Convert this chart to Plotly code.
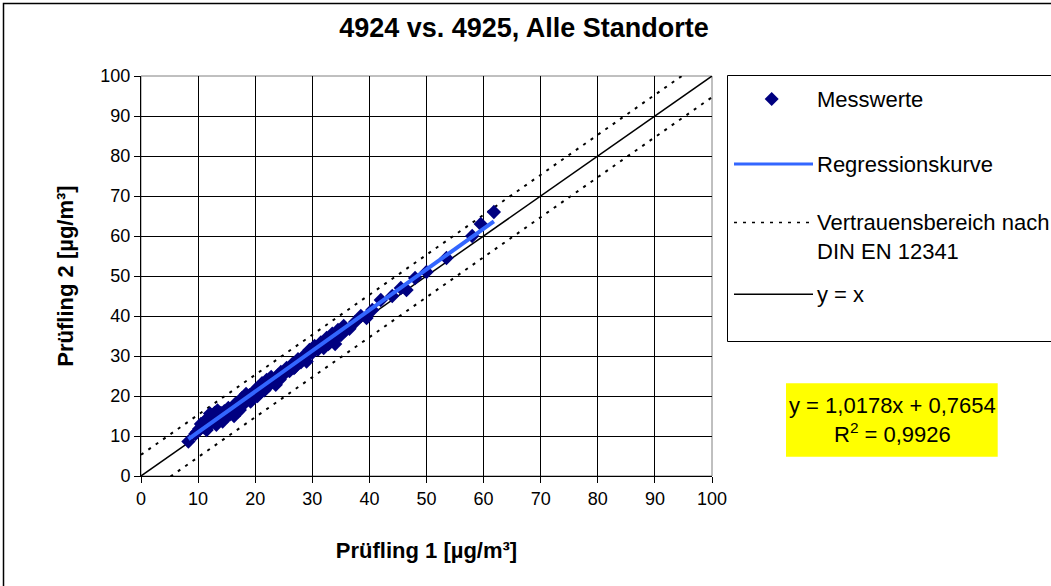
import plotly.graph_objects as go

# ---------------- data ----------------
x_vals = [8.3, 9.5, 10.2, 10.8, 11.2, 11.5, 11.8, 12.1, 12.3, 12.7, 13.0, 13.2, 13.6, 14.0,
          14.3, 14.6, 15.0, 15.3, 15.6, 16.0, 16.3, 16.7, 17.0, 17.3, 17.7, 18.0, 18.4, 18.8,
          19.2, 19.6, 20.0, 20.4, 20.8, 21.2, 21.6, 22.0, 22.4, 22.8, 23.2, 23.6, 24.0, 24.5,
          25.0, 25.5, 26.0, 26.5, 27.0, 27.5, 28.0, 28.5, 29.0, 29.5, 30.0, 30.4, 31.0, 31.5,
          32.0, 32.5, 33.0, 33.5, 34.0, 34.5, 35.0, 35.5, 36.5, 37.5, 38.5, 39.5, 40.5, 42.0,
          44.0, 45.5, 46.5, 48.0, 50.0, 53.5, 58.0, 59.5, 61.8,
          10.5, 11.0, 12.0, 12.9, 13.4, 14.2, 14.8, 15.8, 16.5, 17.5, 18.2, 19.0, 19.9, 21.0,
          22.2, 23.0, 24.3, 25.8, 27.2, 28.8, 30.8, 32.8, 34.3, 35.8, 9.8, 16.9, 20.6, 26.8]
y_vals = [8.6, 10.5, 11.8, 12.5, 13.8, 11.5, 14.5, 15.6, 13.2, 14.0, 15.2, 12.8, 14.3, 15.8,
          13.6, 16.2, 14.8, 17.0, 15.4, 16.8, 15.0, 17.5, 18.3, 16.5, 19.5, 18.0, 20.5, 19.3,
          18.6, 20.8, 21.5, 20.0, 22.0, 23.2, 21.4, 24.0, 22.6, 24.8, 23.5, 22.8, 25.2, 26.0,
          25.4, 27.0, 26.2, 28.0, 27.3, 29.2, 28.4, 30.0, 28.6, 31.5, 30.8, 32.5, 31.6, 33.4,
          32.0, 34.5, 33.2, 35.6, 33.0, 36.5, 35.2, 37.5, 36.8, 38.5, 40.0, 39.5, 41.5, 44.0,
          45.0, 47.0, 46.5, 49.5, 51.0, 54.5, 60.0, 63.0, 66.0,
          13.0, 12.2, 13.5, 15.8, 16.4, 14.9, 15.6, 16.0, 18.0, 18.8, 19.6, 20.2, 20.4, 21.0,
          23.6, 24.2, 24.1, 26.8, 28.5, 29.8, 32.0, 33.0, 34.6, 36.4, 11.0, 16.0, 22.3, 27.0]

reg_slope = 1.0178
reg_intercept = 0.7654
r_squared = 0.9926
conf_offset = 5.3          # half width of DIN EN 12341 band
diag_x = [0, 100]

title_text = "4924 vs. 4925, Alle Standorte"
x_title = "Prüfling 1 [µg/m³]"
y_title = "Prüfling 2 [µg/m³]"
tick_vals = [0, 10, 20, 30, 40, 50, 60, 70, 80, 90, 100]
legend_labels = ["Messwerte", "Regressionskurve", "Vertrauensbereich nach", "DIN EN 12341", "y = x"]

FONT = "Liberation Sans, Arial, sans-serif"
NAVY = "#000080"
BLUE = "#3366FF"

# ---------------- traces ----------------
fig = go.Figure()

fig.add_trace(go.Scatter(x=diag_x, y=[v + conf_offset for v in diag_x], mode="lines",
                         line=dict(color="black", width=2, dash="3px,6px"), showlegend=False))
fig.add_trace(go.Scatter(x=diag_x, y=[v - conf_offset for v in diag_x], mode="lines",
                         line=dict(color="black", width=2, dash="3px,6px"), showlegend=False))
fig.add_trace(go.Scatter(x=diag_x, y=diag_x, mode="lines",
                         line=dict(color="black", width=1.5), showlegend=False))
fig.add_trace(go.Scatter(x=x_vals, y=y_vals, mode="markers",
                         marker=dict(symbol="diamond", size=11, color=NAVY, line=dict(width=0)),
                         showlegend=False))
reg_x = [min(x_vals), max(x_vals)]
fig.add_trace(go.Scatter(x=reg_x, y=[reg_slope * v + reg_intercept for v in reg_x], mode="lines",
                         line=dict(color=BLUE, width=4), showlegend=False))

# ---------------- layout helpers ----------------
L, R, T, B = 141, 712, 76, 476
W, H = 1051, 586


def px(xp):
    return (xp - L) / (R - L)


def py(yp):
    return (B - yp) / (B - T)


shapes = []
annotations = []

# outer chart frame
shapes.append(dict(type="rect", xref="paper", yref="paper", x0=px(3.5), x1=px(1075), y0=py(610), y1=py(3.5),
                   line=dict(color="black", width=1.5), fillcolor="rgba(0,0,0,0)", layer="below"))
# plot area border (grey)
shapes.append(dict(type="rect", xref="paper", yref="paper", x0=0, x1=1, y0=0, y1=1,
                   line=dict(color="#808080", width=1), layer="below"))

# legend box
shapes.append(dict(type="rect", xref="paper", yref="paper", x0=px(727.5), x1=px(1075), y0=py(341.5), y1=py(75.5),
                   line=dict(color="black", width=1), fillcolor="white"))
# legend: diamond
cx, cy, hw = 771.7, 99, 7
shapes.append(dict(type="path", xref="paper", yref="paper",
                   path=f"M {px(cx - hw)} {py(cy)} L {px(cx)} {py(cy - hw)} L {px(cx + hw)} {py(cy)} L {px(cx)} {py(cy + hw)} Z",
                   fillcolor=NAVY, line=dict(color=NAVY, width=0)))
# legend: regression line
shapes.append(dict(type="line", xref="paper", yref="paper", x0=px(734), x1=px(813), y0=py(164), y1=py(164),
                   line=dict(color=BLUE, width=3)))
# legend: dotted
shapes.append(dict(type="line", xref="paper", yref="paper", x0=px(734), x1=px(813), y0=py(222.5), y1=py(222.5),
                   line=dict(color="black", width=1.5, dash="3px,6px")))
# legend: y = x
shapes.append(dict(type="line", xref="paper", yref="paper", x0=px(734), x1=px(813), y0=py(294.3), y1=py(294.3),
                   line=dict(color="black", width=1.5)))

leg_y = [99, 164, 222, 252, 294]
for lbl, yy in zip(legend_labels, leg_y):
    annotations.append(dict(text=lbl, xref="paper", yref="paper", x=px(815), y=py(yy),
                            xanchor="left", yanchor="middle", showarrow=False,
                            font=dict(family=FONT, size=22, color="black")))

# yellow regression box
shapes.append(dict(type="rect", xref="paper", yref="paper", x0=px(786), x1=px(997.7), y0=py(456.7), y1=py(383.3),
                   line=dict(width=0), fillcolor="#FFFF00"))


def de(v, n):
    return f"{v:.{n}f}".replace(".", ",")


annotations.append(dict(text=f"y = {de(reg_slope, 4)}x + {de(reg_intercept, 4)}", xref="paper", yref="paper",
                        x=px(892), y=py(405), xanchor="center", yanchor="middle", showarrow=False,
                        font=dict(family=FONT, size=22, color="black")))
annotations.append(dict(text=f"R<sup>2</sup> = {de(r_squared, 4)}", xref="paper", yref="paper",
                        x=px(892), y=py(433), xanchor="center", yanchor="middle", showarrow=False,
                        font=dict(family=FONT, size=22, color="black")))

axis_common = dict(range=[0, 100], tickvals=tick_vals, showgrid=True, gridcolor="black", gridwidth=1,
                   zeroline=False, showline=True, linecolor="black", linewidth=1,
                   ticks="outside", ticklen=6, tickcolor="black", tickwidth=1,
                   tickfont=dict(family=FONT, size=18, color="black"), fixedrange=True)

fig.update_layout(
    width=W, height=H,
    margin=dict(l=L, r=W - R, t=T, b=H - B, autoexpand=False),
    paper_bgcolor="white", plot_bgcolor="white",
    title=dict(text=title_text, x=524 / W, xanchor="center", y=1 - 28 / H, yanchor="middle",
               font=dict(family=FONT, size=27, color="black", weight="bold")),
    xaxis=dict(**axis_common,
               title=dict(text=x_title, standoff=35, font=dict(family=FONT, size=22, color="black", weight="bold"))),
    yaxis=dict(**axis_common,
               title=dict(text=y_title, standoff=20, font=dict(family=FONT, size=22, color="black", weight="bold"))),
    shapes=shapes,
    annotations=annotations,
    showlegend=False,
)

fig.write_html("out.html", config={"displayModeBar": False},
               post_script="document.body.style.margin='0';document.body.style.overflow='hidden';")
